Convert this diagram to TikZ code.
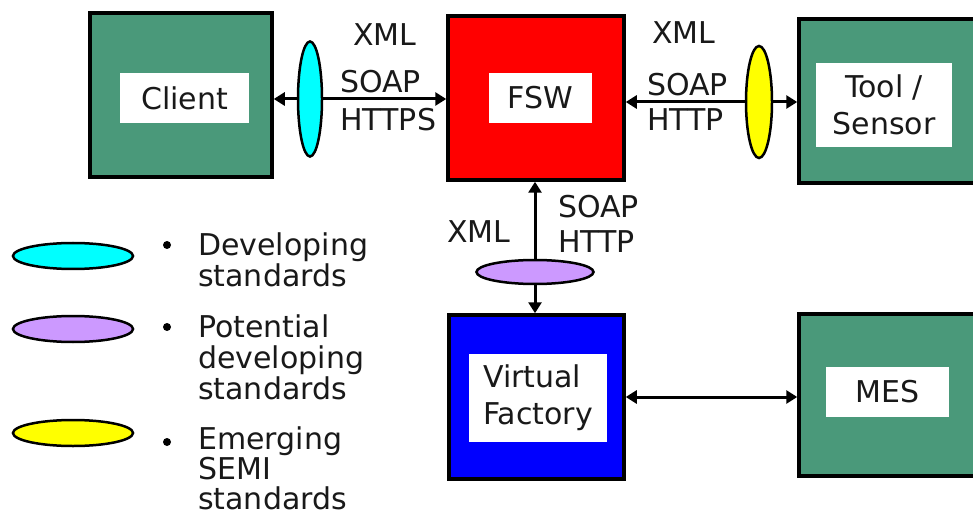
\documentclass[tikz,border=0pt]{standalone}
\usepackage{fontspec}
\setmainfont{DejaVu Sans}
\usetikzlibrary{arrows.meta,shapes.geometric}
\definecolor{boxgreen}{RGB}{74,153,122}
\definecolor{lilac}{RGB}{204,153,255}
\definecolor{aqua}{RGB}{0,255,255}
\definecolor{lemon}{RGB}{255,255,0}
\definecolor{pure red}{RGB}{255,0,0}
\definecolor{pureblue}{RGB}{0,0,255}
\definecolor{txt}{RGB}{25,25,25}
\tikzset{
  outerbox/.style={draw=black,line width=3.5pt,inner sep=0pt,minimum height=164pt},
  whitebox/.style={fill=white,inner sep=0pt,text=txt,align=center,font=\fontsize{30}{37}\selectfont},
  conn/.style={line width=3pt,{Triangle[length=11pt,width=13pt]}-{Triangle[length=11pt,width=13pt]}},
  stdell/.style={ellipse,draw=black,line width=2.5pt,inner sep=0pt},
  lbl/.style={inner sep=0pt,text=txt,font=\fontsize{30}{31}\selectfont,text height=21.5pt,text depth=0pt},
  legtext/.style={inner sep=0pt,text=txt,align=left,font=\fontsize{30}{31}\selectfont},
  bul/.style={circle,fill=black,inner sep=0pt,minimum size=8pt}
}
\begin{document}
\begin{tikzpicture}[x=1pt,y=-1pt]
\useasboundingbox (0,0) rectangle (973,518);
\clip (0,0) rectangle (973,518);
\fill[white] (0,0) rectangle (973,518);
% outer boxes
\node[outerbox,fill=boxgreen,minimum width=182pt] (clientbox) at (181,95) {};
\node[outerbox,fill=pure red,minimum width=176pt] (fswbox) at (536,98) {};
\node[outerbox,fill=boxgreen,minimum width=191pt] (toolbox) at (894.5,101) {};
\node[outerbox,fill=pureblue,minimum width=175pt] (vfbox) at (536.5,397) {};
\node[outerbox,fill=boxgreen,minimum width=191pt,minimum height=162pt] (mesbox) at (894.5,395) {};
% inner labels
\node[whitebox,minimum width=129pt,minimum height=50pt] (client) at (184.5,98) {Client};
\node[whitebox,minimum width=103pt,minimum height=50pt] (fsw) at (540.5,98) {FSW};
\node[whitebox,minimum width=136pt,minimum height=84pt] (tool) at (884,105) {Tool /\\Sensor};
\node[whitebox,minimum width=138pt,minimum height=88pt,align=left] (vf) at (538,398) {Virtual\\Factory};
\node[whitebox,minimum width=123pt,minimum height=50pt] (mes) at (887.5,392) {MES};
% ellipse positions
\coordinate (cpos) at (310,99);
\coordinate (ypos) at (759,102);
\coordinate (ppos) at (535,272);
% connectors
\draw[conn] (clientbox.east |- cpos) -- (fswbox.west |- cpos);
\draw[conn] (fswbox.east |- ypos) -- (toolbox.west |- ypos);
\draw[conn] (fswbox.south -| ppos) -- (vfbox.north -| ppos);
\draw[conn] (vfbox.east |- 0,397) -- (mesbox.west |- 0,397);
% ellipses on connectors
\node[stdell,fill=aqua,minimum width=24pt,minimum height=115pt] (cyanell) at (cpos) {};
\node[stdell,fill=lemon,minimum width=26pt,minimum height=112pt] (yellowell) at (ypos) {};
\node[stdell,fill=lilac,minimum width=117pt,minimum height=24pt] (lilacell) at (ppos) {};
% connector labels
\node[lbl] (x1) at (385,35) {XML};
\node[lbl,anchor=west] (s1) at (340,82) {SOAP};
\node[lbl,anchor=west] (h1) at (340,120) {HTTPS};
\node[lbl] (x2) at (684,33) {XML};
\node[lbl,anchor=west] (s2) at (647,85) {SOAP};
\node[lbl,anchor=west] (h2) at (647,120) {HTTP};
\node[lbl] (x3) at (479,232) {XML};
\node[lbl,anchor=west] (s3) at (558,207) {SOAP};
\node[lbl,anchor=west] (h3) at (558,242) {HTTP};
% legend
\node[stdell,fill=aqua,minimum width=120pt,minimum height=26pt] (lc) at (73,256) {};
\node[stdell,fill=lilac,minimum width=120pt,minimum height=26pt] (lp) at (73,329) {};
\node[stdell,fill=lemon,minimum width=120pt,minimum height=26pt] (ly) at (73,433) {};
\node[bul] (b1) at (167,245) {};
\node[bul] (b2) at (167,327) {};
\node[bul] (b3) at (167,442) {};
\node[legtext,anchor=north west] (t1) at (198,233) {Developing\\standards};
\node[legtext,anchor=north west] (t2) at (198,315) {Potential\\developing\\standards};
\node[legtext,anchor=north west,font=\fontsize{30}{30}\selectfont] (t3) at (198,427) {Emerging\\SEMI\\standards};
\end{tikzpicture}
\end{document}
